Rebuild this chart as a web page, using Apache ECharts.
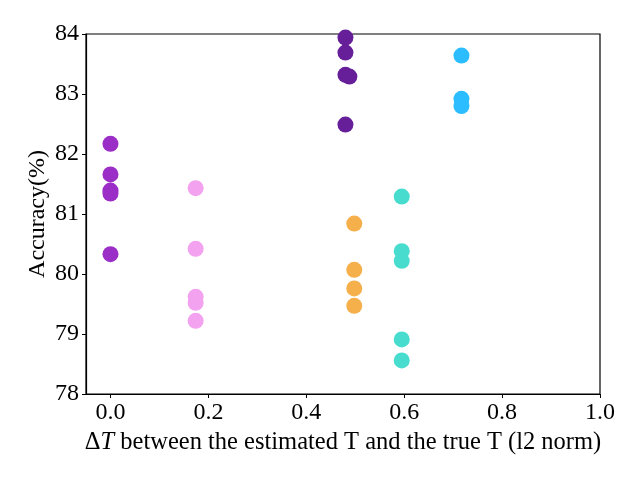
<!DOCTYPE html>
<html>
<head>
<meta charset="utf-8">
<script src="https://cdn.jsdelivr.net/npm/echarts@6/dist/echarts.min.js"></script>
<style>html,body{margin:0;padding:0;background:#fff}#c{width:640px;height:480px}</style>
</head>
<body>
<div id="c"></div>
<script>
var xTicks = [0.0, 0.2, 0.4, 0.6, 0.8, 1.0];
var yTicks = [78, 79, 80, 81, 82, 83, 84];

var purpleX = [0.0, 0.0, 0.0, 0.0, 0.0];
var purpleY = [82.17, 81.66, 81.39, 81.34, 80.33];

var pinkX = [0.174, 0.174, 0.174, 0.174, 0.174];
var pinkY = [81.43, 80.42, 79.62, 79.52, 79.22];

var darkX = [0.48, 0.48, 0.48, 0.488, 0.48];
var darkY = [83.94, 83.69, 83.32, 83.29, 82.49];

var orangeX = [0.498, 0.498, 0.498, 0.498, 0.498];
var orangeY = [80.84, 80.07, 79.76, 79.47, 77.88];

var tealX = [0.595, 0.595, 0.595, 0.595, 0.595];
var tealY = [81.29, 80.38, 80.22, 78.91, 78.56];

var blueX = [0.717, 0.717, 0.717];
var blueY = [83.64, 82.92, 82.80];

function pts(xs, ys) { return xs.map(function (x, i) { return [x, ys[i]]; }); }

var font = 'Liberation Serif';
function ser(xs, ys, color) {
  return { type: 'scatter', data: pts(xs, ys), symbolSize: 16, clip: true,
    itemStyle: { color: color, opacity: 1 } };
}

var chart = echarts.init(document.getElementById('c'), null, { renderer: 'canvas' });
chart.setOption({
  animation: false,
  backgroundColor: '#fff',
  grid: { left: 86, right: 40, top: 34, bottom: 86, show: true, borderColor: '#000', borderWidth: 1.2 },
  xAxis: {
    type: 'value', min: -0.05, max: 1.0,
    name: '\u0394{t|T} between the estimated T and the true T (l2 norm)',
    nameLocation: 'middle', nameGap: 34,
    nameTextStyle: { fontFamily: font, fontSize: 24.5, color: '#000',
      rich: { t: { fontFamily: font, fontSize: 24.5, fontStyle: 'italic', color: '#000' } } },
    axisLine: { show: true, onZero: false, lineStyle: { color: '#000', width: 1.2 } },
    axisTick: { show: true, length: 4, lineStyle: { color: '#000' }, customValues: xTicks },
    axisLabel: { fontFamily: font, fontSize: 24, color: '#000', margin: 7, customValues: xTicks,
      formatter: function (v) { return v.toFixed(1); } },
    splitLine: { show: false }
  },
  yAxis: {
    type: 'value', min: 78, max: 84, interval: 1,
    name: 'Accuracy(%)', nameLocation: 'middle', nameGap: 36, nameRotate: 90,
    nameMoveOverlap: false,
    nameTextStyle: { fontFamily: font, fontSize: 24, color: '#000' },
    axisLine: { show: true, onZero: false, lineStyle: { color: '#000', width: 1.2 } },
    axisTick: { show: true, length: 4, lineStyle: { color: '#000' } },
    axisLabel: { fontFamily: font, fontSize: 24, color: '#000', margin: 7 },
    splitLine: { show: false }
  },
  series: [
    ser(purpleX, purpleY, '#9B2EC6'),
    ser(pinkX, pinkY, '#F2A2EE'),
    ser(darkX, darkY, '#661F99'),
    ser(orangeX, orangeY, '#F5AF4B'),
    ser(tealX, tealY, '#48DCCF'),
    ser(blueX, blueY, '#2BBDFF')
  ]
});
</script>
</body>
</html>
